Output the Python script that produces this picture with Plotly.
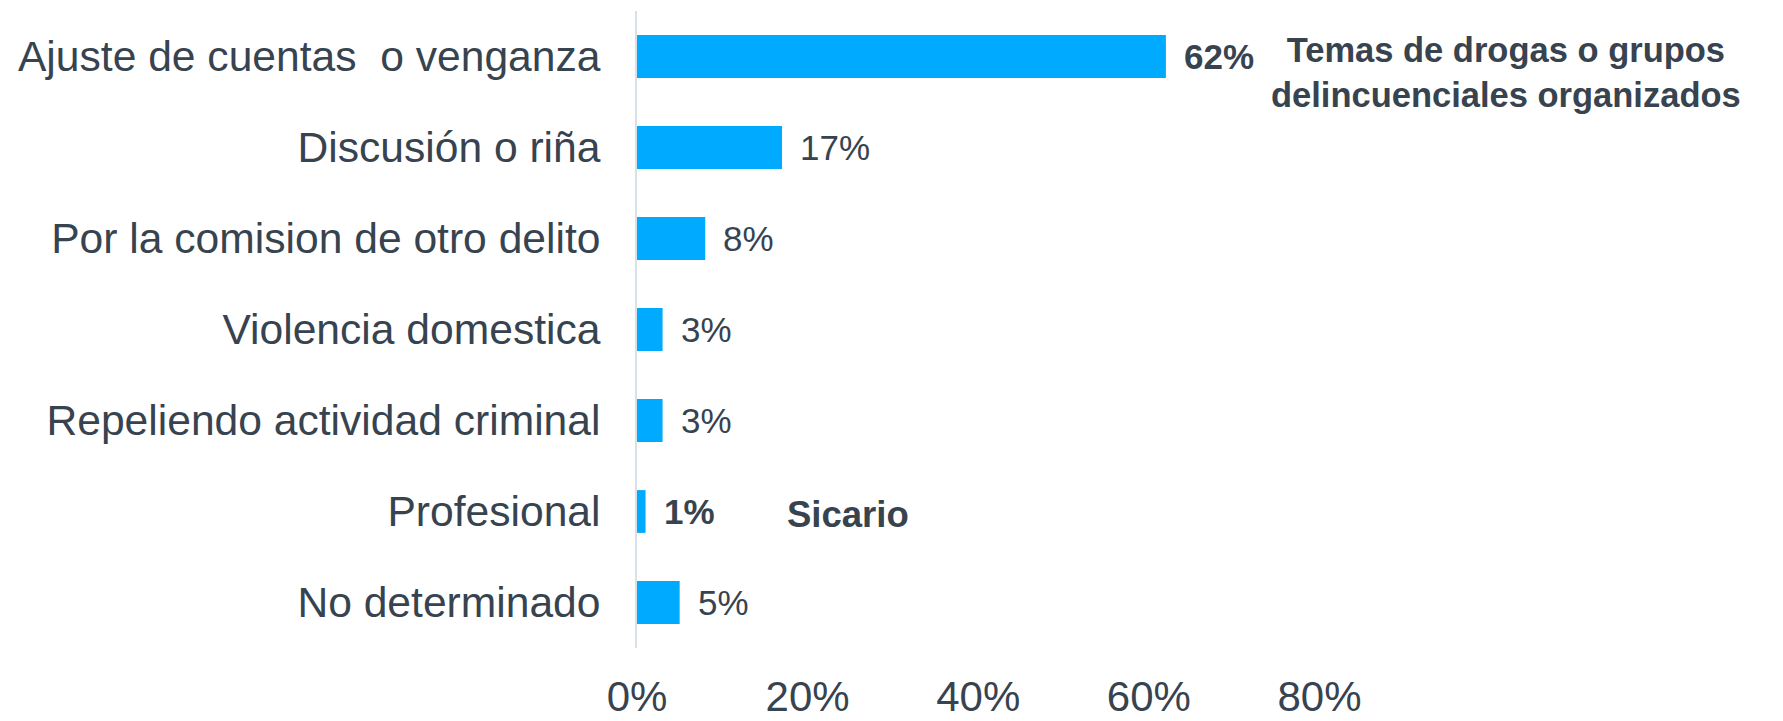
import plotly.graph_objects as go

categories = [
    "Ajuste de cuentas  o venganza",
    "Discusión o riña",
    "Por la comision de otro delito",
    "Violencia domestica",
    "Repeliendo actividad criminal",
    "Profesional",
    "No determinado",
]
values = [62, 17, 8, 3, 3, 1, 5]
value_labels = ["62%", "17%", "8%", "3%", "3%", "1%", "5%"]
label_bold = [True, False, False, False, False, True, False]
tick_values = [0, 20, 40, 60, 80]
tick_labels = ["0%", "20%", "40%", "60%", "80%"]

note_top = "Temas de drogas o grupos<br>delincuenciales organizados"
note_sicario = "Sicario"

TEXT = "#37434F"
BAR = "#00AAFF"
FONT = "Liberation Sans, Arial, sans-serif"

fig = go.Figure()
fig.add_trace(go.Bar(
    x=values, y=categories, orientation="h",
    marker=dict(color=BAR, line=dict(width=0)),
    width=0.47, hoverinfo="skip",
))

for c, v, t, b in zip(categories, values, value_labels, label_bold):
    fig.add_annotation(
        x=v, y=c, xref="x", yref="y", text=f"<b>{t}</b>" if b else t,
        showarrow=False, xanchor="left", yanchor="middle", xshift=16,
        font=dict(family=FONT, size=35, color=TEXT),
    )

fig.add_annotation(
    x=101.9, y=categories[0], xref="x", yref="y", yshift=-16,
    text=f"<b>{note_top}</b>", showarrow=False, xanchor="center", yanchor="middle",
    align="center", font=dict(family=FONT, size=34.5, color=TEXT),
)
fig.add_annotation(
    x=17.3, y=categories[5], xref="x", yref="y", yshift=-3,
    text=f"<b>{note_sicario}</b>", showarrow=False, xanchor="left", yanchor="middle",
    font=dict(family=FONT, size=36.5, color=TEXT),
)

fig.update_layout(
    width=1767, height=713,
    margin=dict(l=629, r=29, t=3, b=73),
    paper_bgcolor="white", plot_bgcolor="white",
    showlegend=False, bargap=0.53,
    font=dict(family=FONT, color=TEXT),
    xaxis=dict(
        range=[0, 130], tickvals=tick_values, ticktext=tick_labels,
        showgrid=False, zeroline=False, showline=False, automargin=False,
        tickfont=dict(size=42, color=TEXT), ticklabelstandoff=20,
    ),
    yaxis=dict(
        range=[len(categories) - 0.5, -0.5], type="category",
        showgrid=False, zeroline=False, automargin=False,
        showline=True, linecolor="#D9E0E8", linewidth=2,
        tickfont=dict(size=42.6, color=TEXT), ticklabelstandoff=26,
    ),
)

fig.write_html("out.html")
